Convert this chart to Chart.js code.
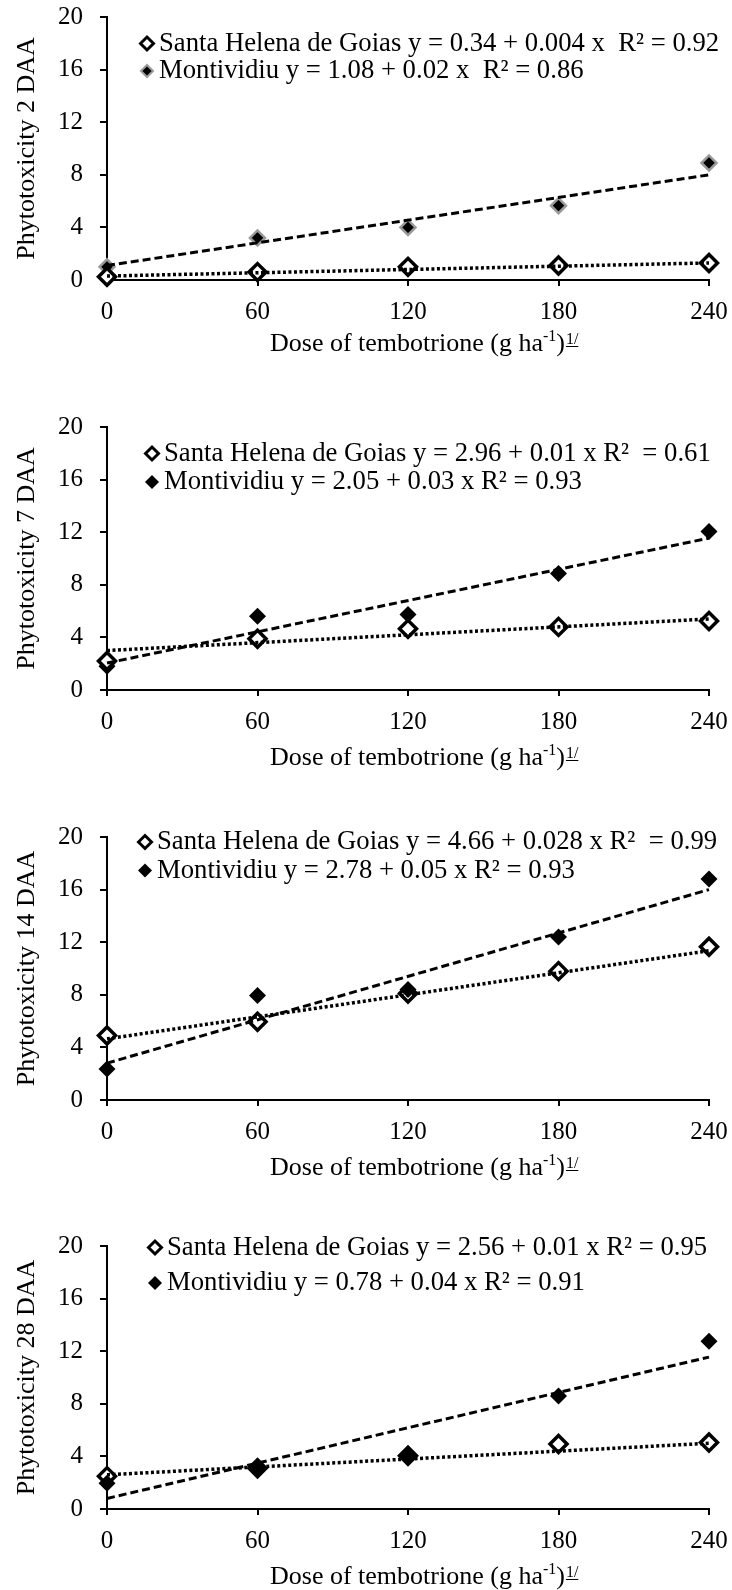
<!DOCTYPE html>
<html>
<head>
<meta charset="utf-8">
<script src="https://cdn.jsdelivr.net/npm/chart.js@4.4.1/dist/chart.umd.min.js"></script>
<style>
  html, body { margin: 0; padding: 0; background: #fff; }
  #wrap { position: relative; width: 732px; height: 1590px; }
  canvas { position: absolute; left: 0; }
</style>
</head>
<body>
<div id="wrap">
  <canvas id="daa2" width="732" height="405" style="top:0px"></canvas>
  <canvas id="daa7" width="732" height="405" style="top:410px"></canvas>
  <canvas id="daa14" width="732" height="405" style="top:820px"></canvas>
  <canvas id="daa28" width="732" height="361" style="top:1229px"></canvas>
</div>
<script>
// dados
const doses = [0, 60, 120, 180, 240];
const fitDoses = [0, 240];
const doseTitleParts = ['Dose of tembotrione (g ha', '-1', ')', '1/'];

const yTitles = ['Phytotoxicity 2 DAA', 'Phytotoxicity 7 DAA', 'Phytotoxicity 14 DAA', 'Phytotoxicity 28 DAA'];

const santaHelenaLabels = [
  'Santa Helena de Goias y = 0.34 + 0.004 x  R² = 0.92',
  'Santa Helena de Goias y = 2.96 + 0.01 x R²  = 0.61',
  'Santa Helena de Goias y = 4.66 + 0.028 x R²  = 0.99',
  'Santa Helena de Goias y = 2.56 + 0.01 x R² = 0.95'
];
const montividiuLabels = [
  'Montividiu y = 1.08 + 0.02 x  R² = 0.86',
  'Montividiu y = 2.05 + 0.03 x R² = 0.93',
  'Montividiu y = 2.78 + 0.05 x R² = 0.93',
  'Montividiu y = 0.78 + 0.04 x R² = 0.91'
];

const santaHelena2 = [0.25, 0.6, 1.0, 1.1, 1.3];
const montividiu2 = [1.0, 3.2, 4.0, 5.65, 8.9];
const santaHelenaFit2 = [0.3, 1.3];
const montividiuFit2 = [1.1, 8.0];

const santaHelena7 = [2.2, 3.9, 4.65, 4.8, 5.25];
const montividiu7 = [1.8, 5.6, 5.75, 8.85, 12.05];
const santaHelenaFit7 = [3.0, 5.4];
const montividiuFit7 = [2.05, 11.55];

const santaHelena14 = [4.9, 5.95, 8.1, 9.8, 11.65];
const montividiu14 = [2.35, 7.95, 8.4, 12.4, 16.8];
const santaHelenaFit14 = [4.65, 11.35];
const montividiuFit14 = [2.8, 16.0];

const santaHelena28 = [2.5, 3.1, 4.05, 4.95, 5.05];
const montividiu28 = [1.95, 3.0, 4.0, 8.6, 12.75];
const santaHelenaFit28 = [2.6, 5.0];
const montividiuFit28 = [0.8, 11.55];

const SERIF = "'Liberation Serif', 'Times New Roman', serif";

// legenda dentro da área do gráfico
const insideLegend = {
  id: 'insideLegend',
  afterDraw(chart, args, opts) {
    const { ctx, chartArea } = chart;
    ctx.save();
    ctx.font = opts.fontSize + 'px ' + SERIF;
    ctx.textBaseline = 'middle';
    chart.data.datasets.forEach(ds => {
      if (ds.legendRow === undefined) return;
      const y = chartArea.top + opts.rows[ds.legendRow];
      ctx.fillStyle = ds.pointBackgroundColor;
      ctx.strokeStyle = ds.pointBorderColor;
      ctx.lineWidth = ds.legendBorder;
      Chart.helpers.drawPoint(ctx, {
        pointStyle: 'rectRot', radius: ds.legendRadius, rotation: 0, borderWidth: ds.legendBorder
      }, opts.markerX, y);
      ctx.fillStyle = '#000';
      ctx.fillText(ds.label, opts.markerX + 12, y);
    });
    ctx.restore();
  }
};

// título do eixo x com sobrescritos
const doseTitle = {
  id: 'doseTitle',
  afterDraw(chart, args, opts) {
    const { ctx, chartArea } = chart;
    const base = chartArea.bottom + opts.offset;
    const big = '26px ' + SERIF;
    const small = '16px ' + SERIF;
    let x = opts.x;
    ctx.save();
    ctx.fillStyle = '#000';
    ctx.strokeStyle = '#000';
    ctx.textBaseline = 'alphabetic';
    ctx.font = big;
    ctx.fillText(doseTitleParts[0], x, base);
    x += ctx.measureText(doseTitleParts[0]).width;
    ctx.font = small;
    ctx.fillText(doseTitleParts[1], x, base - 10);
    x += ctx.measureText(doseTitleParts[1]).width;
    ctx.font = big;
    ctx.fillText(doseTitleParts[2], x, base);
    x += ctx.measureText(doseTitleParts[2]).width + 1;
    ctx.font = small;
    ctx.fillText(doseTitleParts[3], x, base - 7);
    const w = ctx.measureText(doseTitleParts[3]).width;
    ctx.lineWidth = 1;
    ctx.beginPath();
    ctx.moveTo(x, base - 4.5);
    ctx.lineTo(x + w, base - 4.5);
    ctx.stroke();
    ctx.restore();
  }
};

function pts(xs, ys) {
  return xs.map((x, i) => ({ x: x, y: ys[i] }));
}

function makePanel(id, height, yTitle, sh, mo, shFit, moFit, shLabel, moLabel, legend, titleOffset, greyEdge, moOnTop) {
  new Chart(document.getElementById(id), {
    type: 'scatter',
    data: {
      datasets: [
        {
          label: 'Santa Helena de Goias (linear)',
          data: pts(fitDoses, shFit),
          showLine: true,
          borderColor: '#000',
          borderWidth: 3.5,
          borderDash: [3, 2.5],
          pointRadius: 0,
          order: 0,
          clip: false
        },
        {
          label: 'Montividiu (linear)',
          data: pts(fitDoses, moFit),
          showLine: true,
          borderColor: '#000',
          borderWidth: 3,
          borderDash: [8, 4],
          pointRadius: 0,
          order: 1,
          clip: false
        },
        {
          label: moLabel,
          data: pts(doses, mo),
          pointStyle: 'rectRot',
          pointRadius: greyEdge ? 7.5 : 8.5,
          legendRadius: greyEdge ? 6 : 7,
          legendBorder: greyEdge ? 2 : 0,
          pointBackgroundColor: '#000',
          pointBorderColor: greyEdge ? '#9a9a9a' : '#000',
          pointBorderWidth: greyEdge ? 2.5 : 0,
          order: moOnTop ? 2 : 3,
          clip: false,
          legendRow: 1
        },
        {
          label: shLabel,
          data: pts(doses, sh),
          pointStyle: 'rectRot',
          pointRadius: 8.5,
          legendRadius: 6.5,
          legendBorder: 3,
          pointBackgroundColor: '#fff',
          pointBorderColor: '#000',
          pointBorderWidth: 3.5,
          order: moOnTop ? 3 : 2,
          clip: false,
          legendRow: 0
        }
      ]
    },
    options: {
      responsive: false,
      animation: false,
      events: [],
      layout: { padding: { top: 17, right: 23, left: 0, bottom: 0 } },
      plugins: {
        legend: { display: false },
        tooltip: { enabled: false },
        insideLegend: { fontSize: 26.7, markerX: legend.x, rows: legend.rows },
        doseTitle: { x: 270, offset: titleOffset }
      },
      scales: {
        x: {
          type: 'linear',
          min: 0,
          max: 240,
          ticks: { stepSize: 60, color: '#000', font: { family: SERIF, size: 25 }, padding: 11, maxRotation: 0 },
          grid: { drawOnChartArea: false, drawTicks: true, tickLength: 6, color: '#000', lineWidth: 2 },
          border: { display: true, color: '#000', width: 2 },
          afterFit: s => { s.height = height - 17 - 263; s.paddingLeft = 0; s.paddingRight = 0; }
        },
        y: {
          min: 0,
          max: 20,
          ticks: { stepSize: 4, color: '#000', font: { family: SERIF, size: 25 }, padding: 17 },
          grid: { drawOnChartArea: false, drawTicks: true, tickLength: 7, color: '#000', lineWidth: 2 },
          border: { display: true, color: '#000', width: 2 },
          title: { display: true, text: yTitle, color: '#000', font: { family: SERIF, size: 26 }, padding: { top: 12, bottom: 0 } },
          afterFit: s => { s.width = 107; s.paddingTop = 0; s.paddingBottom = 0; }
        }
      }
    },
    plugins: [insideLegend, doseTitle]
  });
}

makePanel('daa2', 405, yTitles[0], santaHelena2, montividiu2, santaHelenaFit2, montividiuFit2,
  santaHelenaLabels[0], montividiuLabels[0], { x: 147, rows: [26.5, 54] }, 71, true, false);
makePanel('daa7', 405, yTitles[1], santaHelena7, montividiu7, santaHelenaFit7, montividiuFit7,
  santaHelenaLabels[1], montividiuLabels[1], { x: 152, rows: [26.5, 55] }, 75, false, false);
makePanel('daa14', 405, yTitles[2], santaHelena14, montividiu14, santaHelenaFit14, montividiuFit14,
  santaHelenaLabels[2], montividiuLabels[2], { x: 145, rows: [5, 33.5] }, 75, false, true);
makePanel('daa28', 361, yTitles[3], santaHelena28, montividiu28, santaHelenaFit28, montividiuFit28,
  santaHelenaLabels[3], montividiuLabels[3], { x: 155, rows: [1.5, 37] }, 75, false, true);
</script>
</body>
</html>
